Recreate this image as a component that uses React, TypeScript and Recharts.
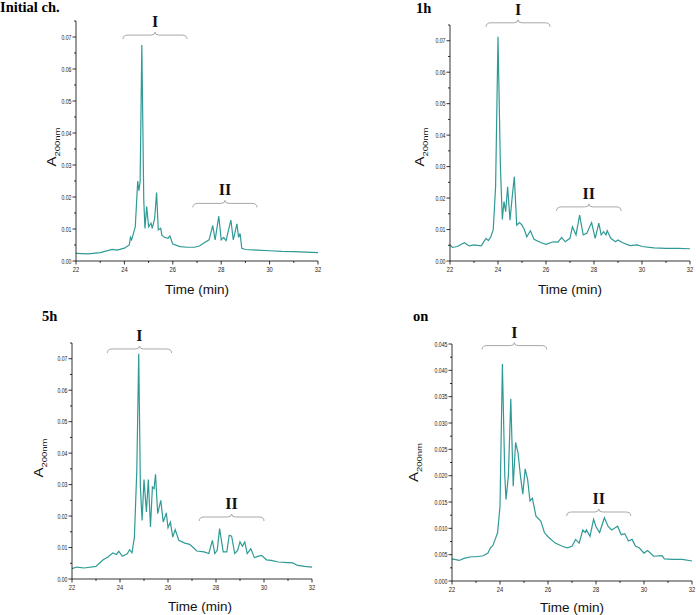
import React from 'react';
import { LineChart, Line, XAxis, YAxis, ReferenceLine } from 'recharts';

const LINE = '#2f9a96';
const BRACE = '#a8a8a8';
const TICK_FONT = '"Liberation Sans", Arial, sans-serif';
const SERIF = '"Liberation Serif", "Times New Roman", serif';
const SANS = '"Liberation Sans", Arial, sans-serif';

// Initial ch.
const timeInitial = [22.0, 22.5, 23.0, 23.5, 23.7, 24.0, 24.2, 24.25, 24.3, 24.45, 24.55, 24.6, 24.65, 24.72, 24.8, 24.85, 24.92, 25.0, 25.1, 25.15, 25.25, 25.33, 25.4, 25.5, 25.55, 25.65, 25.8, 25.88, 26.0, 26.3, 26.6, 26.9, 27.1, 27.3, 27.5, 27.65, 27.75, 27.9, 28.0, 28.1, 28.2, 28.4, 28.5, 28.65, 28.72, 28.78, 28.85, 29.0, 29.5, 30.0, 30.5, 31.0, 31.5, 32.0];
const absInitial = [0.0024, 0.0022, 0.0026, 0.0036, 0.0034, 0.004, 0.005, 0.0074, 0.0066, 0.0107, 0.025, 0.022, 0.0248, 0.0675, 0.019, 0.0102, 0.017, 0.0107, 0.0118, 0.0102, 0.0133, 0.0214, 0.0097, 0.0102, 0.0081, 0.0074, 0.0071, 0.0078, 0.0053, 0.0045, 0.0043, 0.0043, 0.0047, 0.0057, 0.0066, 0.0111, 0.0066, 0.014, 0.0066, 0.0074, 0.0064, 0.0128, 0.0066, 0.0116, 0.0074, 0.0086, 0.004, 0.0036, 0.0034, 0.0032, 0.003, 0.0029, 0.0028, 0.0026];

// 1h
const time1h = [22.0, 22.1, 22.3, 22.6, 22.8, 23.0, 23.3, 23.5, 23.6, 23.7, 23.8, 23.9, 24.0, 24.1, 24.18, 24.25, 24.32, 24.4, 24.5, 24.6, 24.68, 24.78, 24.9, 25.0, 25.1, 25.2, 25.35, 25.5, 25.8, 26.0, 26.3, 26.5, 26.65, 26.8, 27.0, 27.1, 27.25, 27.4, 27.55, 27.7, 27.9, 28.05, 28.2, 28.3, 28.4, 28.5, 28.55, 28.7, 28.9, 29.0, 29.2, 29.5, 29.8, 30.0, 30.5, 31.0, 31.5, 32.0];
const abs1h = [0.0051, 0.0043, 0.0046, 0.0058, 0.0048, 0.0051, 0.0048, 0.0072, 0.0065, 0.0077, 0.0099, 0.0236, 0.0713, 0.03, 0.0132, 0.0189, 0.0157, 0.0236, 0.013, 0.021, 0.0268, 0.0114, 0.0122, 0.0114, 0.0099, 0.0077, 0.0096, 0.0069, 0.0058, 0.0053, 0.0061, 0.006, 0.0075, 0.0061, 0.0072, 0.0109, 0.0083, 0.0146, 0.0083, 0.0088, 0.0122, 0.0072, 0.012, 0.0083, 0.0093, 0.0083, 0.0096, 0.0072, 0.0061, 0.0067, 0.0058, 0.0049, 0.0051, 0.0046, 0.0042, 0.004, 0.004, 0.0039];

// 5h
const time5h = [22.0, 22.2, 22.5, 23.0, 23.3, 23.5, 23.7, 23.85, 23.95, 24.1, 24.3, 24.4, 24.5, 24.6, 24.7, 24.78, 24.85, 24.92, 25.0, 25.1, 25.18, 25.27, 25.35, 25.42, 25.48, 25.57, 25.7, 25.8, 25.93, 26.0, 26.1, 26.2, 26.3, 26.45, 26.7, 26.9, 27.05, 27.2, 27.5, 27.7, 27.85, 27.95, 28.05, 28.15, 28.3, 28.45, 28.55, 28.65, 28.78, 28.9, 29.0, 29.1, 29.2, 29.3, 29.45, 29.6, 29.75, 29.9, 30.1, 30.3, 30.6, 31.0, 31.2, 31.4, 31.7, 32.0];
const abs5h = [0.0033, 0.0038, 0.0035, 0.004, 0.0061, 0.007, 0.0083, 0.0078, 0.0088, 0.0072, 0.008, 0.0093, 0.0083, 0.0133, 0.0345, 0.0716, 0.0292, 0.0186, 0.0316, 0.0213, 0.0316, 0.0165, 0.0292, 0.0287, 0.0333, 0.0208, 0.025, 0.0181, 0.021, 0.0163, 0.0181, 0.0133, 0.0157, 0.0123, 0.0114, 0.011, 0.01, 0.0089, 0.0086, 0.0081, 0.0123, 0.0081, 0.0091, 0.016, 0.0086, 0.0086, 0.0139, 0.0136, 0.0081, 0.0091, 0.0118, 0.0104, 0.0118, 0.0081, 0.0096, 0.0068, 0.0072, 0.0075, 0.0061, 0.0059, 0.0054, 0.0052, 0.0051, 0.0043, 0.004, 0.0038];

// on (overnight)
const timeOn = [22.0, 22.3, 22.5, 22.8, 23.0, 23.3, 23.5, 23.6, 23.7, 23.8, 23.9, 24.0, 24.1, 24.2, 24.25, 24.35, 24.45, 24.55, 24.65, 24.75, 24.85, 24.95, 25.05, 25.15, 25.25, 25.35, 25.5, 25.7, 25.85, 26.0, 26.3, 26.6, 26.8, 27.0, 27.15, 27.3, 27.45, 27.55, 27.6, 27.75, 27.9, 28.0, 28.15, 28.35, 28.5, 28.65, 28.8, 28.9, 29.05, 29.2, 29.35, 29.5, 29.65, 29.8, 30.0, 30.15, 30.4, 30.75, 30.85, 31.2, 31.6, 32.0];
const absOn = [0.0042, 0.0039, 0.0043, 0.0046, 0.0046, 0.0048, 0.0053, 0.0063, 0.0067, 0.0079, 0.0092, 0.0142, 0.0412, 0.02, 0.0155, 0.02, 0.0346, 0.018, 0.0263, 0.0244, 0.02, 0.0165, 0.0213, 0.0193, 0.0152, 0.0157, 0.0123, 0.0114, 0.0092, 0.0084, 0.0072, 0.0066, 0.0063, 0.0066, 0.0079, 0.0072, 0.0097, 0.0092, 0.0097, 0.0085, 0.0117, 0.0103, 0.0092, 0.012, 0.0104, 0.0097, 0.0101, 0.0104, 0.0088, 0.009, 0.0076, 0.0079, 0.0066, 0.0063, 0.0053, 0.0058, 0.0047, 0.0048, 0.0042, 0.0041, 0.0041, 0.0038];

const xTicks = [22, 23, 24, 25, 26, 27, 28, 29, 30, 31, 32];
const yTicksMain = [0, 0.005, 0.01, 0.015, 0.02, 0.025, 0.03, 0.035, 0.04, 0.045, 0.05, 0.055, 0.06, 0.065, 0.07, 0.075];
const yTicksOn = [0, 0.0025, 0.005, 0.0075, 0.01, 0.0125, 0.015, 0.0175, 0.02, 0.0225, 0.025, 0.0275, 0.03, 0.0325, 0.035, 0.0375, 0.04, 0.0425, 0.045];

// narrow tick labels, like the squeezed originals
const narrowLen = (s: string) => s.replace('.', '').length * 2.9 + (s.includes('.') ? 1.4 : 0);

const XTick = (props: any) => {
  const { x, y, payload } = props;
  const major = payload.value % 2 === 0;
  const s = String(payload.value);
  return (
    <g>
      <line x1={x} x2={x} y1={y} y2={y + (major ? 3.5 : 2)} stroke="#000" strokeWidth={0.8} />
      {major && (
        <text x={x} y={y + 11} textAnchor="middle" fontSize={7} fontFamily={TICK_FONT} fill="#222"
          textLength={narrowLen(s) + 0.6} lengthAdjust="spacingAndGlyphs">
          {s}
        </text>
      )}
    </g>
  );
};

const makeYTick = (step: number, digits: number) => (props: any) => {
  const { x, y, payload } = props;
  const r = payload.value / step;
  const major = Math.abs(r - Math.round(r)) < 1e-6;
  const s = payload.value.toFixed(digits);
  return (
    <g>
      <line x1={x} x2={x - (major ? 3.5 : 2)} y1={y} y2={y} stroke="#000" strokeWidth={0.8} />
      {major && (
        <text x={x - 4.5} y={y + 2.5} textAnchor="end" fontSize={7} fontFamily={TICK_FONT} fill="#222"
          textLength={narrowLen(s)} lengthAdjust="spacingAndGlyphs">
          {s}
        </text>
      )}
    </g>
  );
};

const braceShape = (label: string) => (p: any) => {
  const xa = Math.min(p.x1, p.x2);
  const xb = Math.max(p.x1, p.x2);
  const y = p.y1;
  const m = (xa + xb) / 2;
  const d = `M${xa},${y + 4} Q${xa},${y} ${xa + 5},${y} L${m - 4},${y} Q${m},${y} ${m},${y - 3} Q${m},${y} ${m + 4},${y} L${xb - 5},${y} Q${xb},${y} ${xb},${y + 4}`;
  return (
    <g>
      <path d={d} fill="none" stroke={BRACE} strokeWidth={1} />
      <text x={m} y={y - 8} textAnchor="middle" fontFamily={SERIF} fontWeight="bold" fontSize={16} fill="#111">
        {label}
      </text>
    </g>
  );
};

type Brace = { label: string; from: number; to: number; level: number };

interface PanelProps {
  title: string;
  titleX: number;
  titleY: number;
  left: number;
  top: number;
  width: number;
  height: number;
  times: number[];
  values: number[];
  yMax: number;
  yTicks: number[];
  yStep: number;
  yDigits: number;
  braces: Brace[];
  yLabelGap: number;
  yLabelDy: number;
  xLabelGap: number;
  xLabelDx: number;
}

function Panel(pr: PanelProps) {
  const data = pr.times.map((t, i) => ({ t, a: pr.values[i] }));
  const ML = 70, MT = 30, MR = 8, MB = 40;
  return (
    <>
      <div
        style={{
          position: 'absolute',
          left: pr.titleX,
          top: pr.titleY - 12,
          fontFamily: SERIF,
          fontWeight: 'bold',
          fontSize: 14.5,
          lineHeight: '15px',
          whiteSpace: 'nowrap',
        }}
      >
        {pr.title}
      </div>
      <div style={{ position: 'absolute', left: pr.left - ML, top: pr.top - MT }}>
        <LineChart
          width={pr.width + ML + MR}
          height={pr.height + MT + MB}
          data={data}
          margin={{ top: MT, right: MR, bottom: 0, left: 0 }}
        >
          <XAxis
            dataKey="t"
            type="number"
            domain={[22, 32]}
            ticks={xTicks}
            interval={0}
            height={MB}
            tickSize={0}
            tickMargin={0}
            tickLine={false}
            tick={XTick}
            axisLine={{ stroke: '#000', strokeWidth: 0.8 }}
            label={(lp: any) => {
              const vb = lp.viewBox;
              return (
                <text
                  x={vb.x + vb.width / 2 + pr.xLabelDx}
                  y={vb.y + pr.xLabelGap + 5}
                  textAnchor="middle"
                  fontFamily={SANS}
                  fontSize={13.5}
                  fill="#111"
                >
                  Time (min)
                </text>
              );
            }}
          />
          <YAxis
            type="number"
            domain={[0, pr.yMax]}
            ticks={pr.yTicks}
            interval={0}
            width={ML}
            tickSize={0}
            tickMargin={0}
            tickLine={false}
            tick={makeYTick(pr.yStep, pr.yDigits)}
            axisLine={{ stroke: '#000', strokeWidth: 0.8 }}
            label={(lp: any) => {
              const vb = lp.viewBox;
              const cx = vb.x + vb.width - pr.yLabelGap;
              const cy = vb.y + vb.height / 2 + pr.yLabelDy;
              return (
                <text
                  transform={`translate(${cx},${cy}) scale(0.85,1) rotate(-90)`}
                  textAnchor="middle"
                  fontFamily={SANS}
                  fill="#111"
                  y={4}
                >
                  <tspan fontSize={15}>A</tspan>
                  <tspan fontSize={9.5} dy={4}>200nm</tspan>
                </text>
              );
            }}
          />
          <Line
            type="linear"
            dataKey="a"
            stroke={LINE}
            strokeWidth={1.2}
            dot={false}
            isAnimationActive={false}
          />
          {pr.braces.map((b) => (
            <ReferenceLine
              key={b.label}
              segment={[
                { x: b.from, y: b.level },
                { x: b.to, y: b.level },
              ]}
              ifOverflow="visible"
              shape={braceShape(b.label)}
            />
          ))}
        </LineChart>
      </div>
    </>
  );
}

export default function App() {
  return (
    <div style={{ position: 'absolute', left: 0, top: 0, width: 696, height: 615, background: '#fff', overflow: 'hidden' }}>
      <Panel
        title="Initial ch."
        titleX={0}
        titleY={12}
        left={76}
        top={21}
        width={242}
        height={240}
        times={timeInitial}
        values={absInitial}
        yMax={0.075}
        yTicks={yTicksMain}
        yStep={0.01}
        yDigits={2}
        braces={[
          { label: 'I', from: 23.94, to: 26.59, level: 0.0706 },
          { label: 'II', from: 26.83, to: 29.48, level: 0.018 },
        ]}
        yLabelGap={23}
        yLabelDy={6}
        xLabelGap={28}
        xLabelDx={0}
      />
      <Panel
        title="1h"
        titleX={416}
        titleY={13}
        left={450}
        top={25}
        width={240}
        height={236}
        times={time1h}
        values={abs1h}
        yMax={0.075}
        yTicks={yTicksMain}
        yStep={0.01}
        yDigits={2}
        braces={[
          { label: 'I', from: 23.5, to: 26.17, level: 0.0757 },
          { label: 'II', from: 26.44, to: 29.13, level: 0.0172 },
        ]}
        yLabelGap={29}
        yLabelDy={4}
        xLabelGap={28}
        xLabelDx={0}
      />
      <Panel
        title="5h"
        titleX={42}
        titleY={321}
        left={72}
        top={343}
        width={240}
        height={236}
        times={time5h}
        values={abs5h}
        yMax={0.075}
        yTicks={yTicksMain}
        yStep={0.01}
        yDigits={2}
        braces={[
          { label: 'I', from: 23.47, to: 26.15, level: 0.0731 },
          { label: 'II', from: 27.3, to: 30.0, level: 0.0197 },
        ]}
        yLabelGap={32}
        yLabelDy={-3}
        xLabelGap={27}
        xLabelDx={8}
      />
      <Panel
        title="on"
        titleX={413}
        titleY={321}
        left={452}
        top={344}
        width={240}
        height={237}
        times={timeOn}
        values={absOn}
        yMax={0.045}
        yTicks={yTicksOn}
        yStep={0.005}
        yDigits={3}
        braces={[
          { label: 'I', from: 23.25, to: 25.95, level: 0.0447 },
          { label: 'II', from: 26.78, to: 29.45, level: 0.0131 },
        ]}
        yLabelGap={37}
        yLabelDy={0}
        xLabelGap={26}
        xLabelDx={0}
      />
    </div>
  );
}
